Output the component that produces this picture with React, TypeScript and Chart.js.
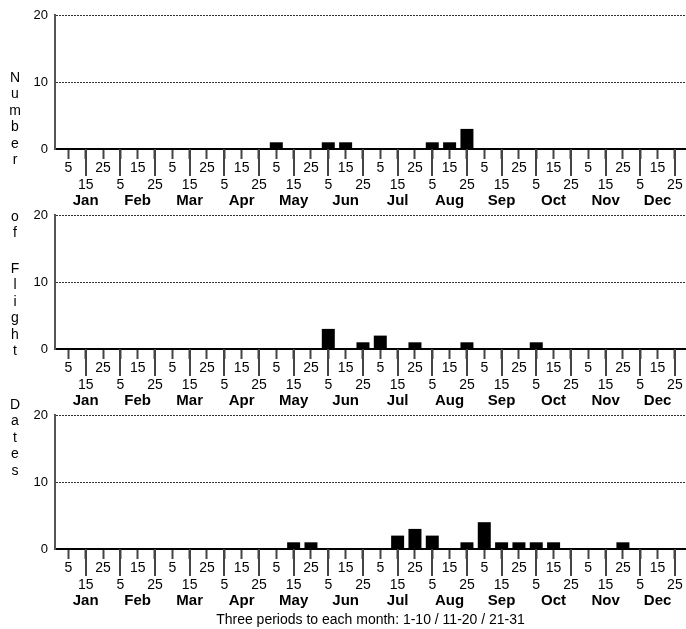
import React, { useEffect, useRef } from 'react';
import { Chart, registerables } from 'chart.js';

Chart.register(...registerables);

// ---- data ----
const months = ['Jan', 'Feb', 'Mar', 'Apr', 'May', 'Jun', 'Jul', 'Aug', 'Sep', 'Oct', 'Nov', 'Dec'];
const periodLabels = ['5', '15', '25'];
const yTicks = [0, 10, 20];
const xTitle = 'Three periods to each month: 1-10 / 11-20 / 21-31';
const yTitleWords = ['Number', 'of', 'Flight', 'Dates'];

// one value per 10-day period: Jan 1-10, Jan 11-20, Jan 21-31, Feb 1-10, ...
const panel1 = [0, 0, 0, 0, 0, 0, 0, 0, 0, 0, 0, 0, 1, 0, 0, 1, 1, 0, 0, 0, 0, 1, 1, 3, 0, 0, 0, 0, 0, 0, 0, 0, 0, 0, 0, 0];
const panel2 = [0, 0, 0, 0, 0, 0, 0, 0, 0, 0, 0, 0, 0, 0, 0, 3, 0, 1, 2, 0, 1, 0, 0, 1, 0, 0, 0, 1, 0, 0, 0, 0, 0, 0, 0, 0];
const panel3 = [0, 0, 0, 0, 0, 0, 0, 0, 0, 0, 0, 0, 0, 1, 1, 0, 0, 0, 0, 2, 3, 2, 0, 1, 4, 1, 1, 1, 1, 0, 0, 0, 1, 0, 0, 0];

// ---- layout ----
const FONT = "'Liberation Sans', Arial, Helvetica, sans-serif";
const X_MIN = -0.77;
const X_MAX = 35.64;
const TOP_PAD = 15;
const AREA_H = 134;
const NUM_AXIS_H = 44;
const WORD_TOPS = [77, 216, 268, 404];
const LETTER_STEP = 16.5;

const longTicksPlugin = {
  id: 'longTicks',
  afterDraw(chart: any) {
    const sc = chart.scales.x;
    const ctx = chart.ctx;
    const y0 = chart.chartArea.bottom;
    ctx.save();
    ctx.strokeStyle = '#444';
    ctx.lineWidth = 2;
    sc.ticks.forEach((t: any, i: number) => {
      if (i % 2 === 1) {
        const x = Math.round(sc.getPixelForValue(t.value));
        ctx.beginPath();
        ctx.moveTo(x, y0);
        ctx.lineTo(x, y0 + 27);
        ctx.stroke();
      }
    });
    ctx.restore();
  },
};

function Panel({ values, top, height, showTitle }: { values: number[]; top: number; height: number; showTitle: boolean }) {
  const ref = useRef<HTMLCanvasElement>(null);
  useEffect(() => {
    if (!ref.current) return;
    const monthAxisH = height - TOP_PAD - AREA_H - NUM_AXIS_H;
    const chart = new Chart(ref.current, {
      type: 'bar',
      data: {
        datasets: [
          {
            data: values.map((v, i) => ({ x: i, y: v })),
            backgroundColor: '#000',
            borderWidth: 0,
            barPercentage: 0.75,
            categoryPercentage: 1,
            xAxisID: 'x',
            yAxisID: 'y',
          },
        ],
      },
      options: {
        animation: false,
        responsive: false,
        maintainAspectRatio: false,
        layout: { autoPadding: false, padding: { top: TOP_PAD, left: 0, right: 0, bottom: 0 } },
        plugins: { legend: { display: false }, tooltip: { enabled: false }, title: { display: false } },
        scales: {
          x: {
            type: 'linear',
            position: 'bottom',
            min: X_MIN,
            max: X_MAX,
            offset: false,
            weight: 0,
            afterBuildTicks: (s: any) => {
              s.ticks = values.map((_, i) => ({ value: i }));
            },
            afterFit: (s: any) => {
              s.height = NUM_AXIS_H;
            },
            grid: {
              display: true,
              drawOnChartArea: false,
              drawTicks: true,
              tickLength: 10,
              tickColor: '#444',
              tickWidth: 2,
              offset: false,
            },
            border: { display: true, color: '#000', width: 2 },
            ticks: {
              autoSkip: false,
              maxRotation: 0,
              minRotation: 0,
              padding: 1,
              color: '#000',
              font: { family: FONT, size: 14, lineHeight: '16.5px' },
              callback: (_v: any, i: number) => {
                const lbl = periodLabels[i % 3];
                return i % 2 === 0 ? [lbl] : ['', lbl];
              },
            },
          },
          month: {
            type: 'linear',
            axis: 'x',
            position: 'bottom',
            min: X_MIN,
            max: X_MAX,
            offset: false,
            weight: 1,
            afterBuildTicks: (s: any) => {
              s.ticks = months.map((_, m) => ({ value: m * 3 + 1 }));
            },
            afterFit: (s: any) => {
              s.height = monthAxisH;
            },
            grid: { display: false, drawTicks: false },
            border: { display: false },
            ticks: {
              autoSkip: false,
              maxRotation: 0,
              minRotation: 0,
              padding: 0,
              color: '#000',
              font: { family: FONT, size: 15, weight: 'bold', lineHeight: '16px' },
              callback: (_v: any, i: number) => months[i],
            },
            title: {
              display: showTitle,
              text: xTitle,
              color: '#000',
              font: { family: FONT, size: 14, lineHeight: '16px' },
              padding: { top: 0, bottom: 1 },
            },
          },
          y: {
            type: 'linear',
            min: 0,
            max: 20,
            afterBuildTicks: (s: any) => {
              s.ticks = yTicks.map((v) => ({ value: v }));
            },
            afterFit: (s: any) => {
              s.width = 55;
            },
            grid: {
              drawTicks: false,
              lineWidth: 1,
              color: (c: any) => (c.tick && c.tick.value === 0 ? 'rgba(0,0,0,0)' : '#333'),
            },
            border: { display: true, color: '#555', width: 2, dash: [2, 1] },
            ticks: {
              padding: 7,
              color: '#000',
              font: { family: FONT, size: 13 },
            },
          },
        },
      } as any,
      plugins: [longTicksPlugin],
    });
    return () => chart.destroy();
  }, [values, height, showTitle]);

  return (
    <canvas
      ref={ref}
      width={686}
      height={height}
      style={{ position: 'absolute', left: 0, top, width: 686, height, display: 'block' }}
    />
  );
}

export default function App() {
  const letters: { ch: string; y: number }[] = [];
  yTitleWords.forEach((w, wi) => {
    w.split('').forEach((ch, ci) => letters.push({ ch, y: WORD_TOPS[wi] + ci * LETTER_STEP }));
  });
  return (
    <div style={{ position: 'absolute', left: 0, top: 0, width: 686, height: 629, background: '#fff', overflow: 'hidden' }}>
      <Panel values={panel1} top={0} height={215} showTitle={false} />
      <Panel values={panel2} top={200} height={215} showTitle={false} />
      <Panel values={panel3} top={400} height={229} showTitle={true} />
      {letters.map((l, i) => (
        <div
          key={i}
          style={{
            position: 'absolute',
            left: 0,
            width: 30,
            top: l.y - LETTER_STEP / 2,
            height: LETTER_STEP,
            lineHeight: LETTER_STEP + 'px',
            textAlign: 'center',
            fontFamily: FONT,
            fontSize: 14,
            color: '#000',
          }}
        >
          {l.ch}
        </div>
      ))}
    </div>
  );
}
